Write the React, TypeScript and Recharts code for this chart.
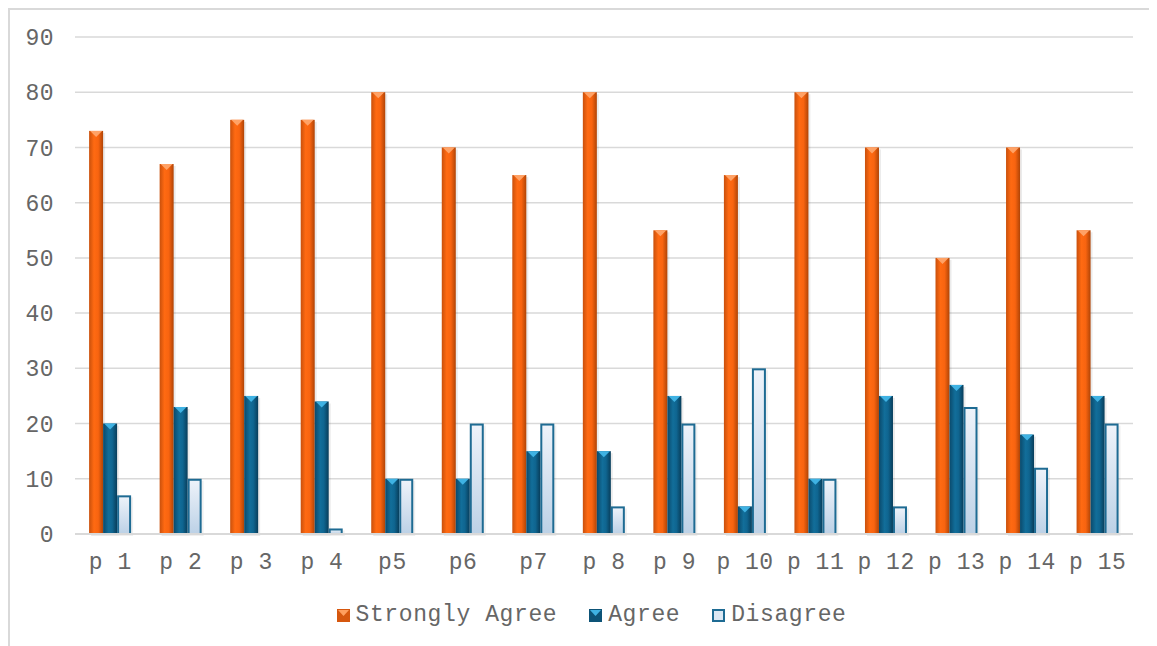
import React from "react";
import { BarChart, Bar, XAxis, YAxis, CartesianGrid, Legend } from "recharts";

const categories = ["p 1", "p 2", "p 3", "p 4", "p5", "p6", "p7", "p 8", "p 9", "p 10", "p 11", "p 12", "p 13", "p 14", "p 15"];
const stronglyAgree = [73, 67, 75, 75, 80, 70, 65, 80, 55, 65, 80, 70, 50, 70, 55];
const agree = [20, 23, 25, 24, 10, 10, 15, 15, 25, 5, 10, 25, 27, 18, 25];
const disagree = [7, 10, 0, 1, 10, 20, 20, 5, 20, 30, 10, 5, 23, 12, 20];
const yTicks = [0, 10, 20, 30, 40, 50, 60, 70, 80, 90];

const data = categories.map((c, i) => ({
  name: c,
  sa: stronglyAgree[i],
  ag: agree[i],
  di: disagree[i],
}));

const FONT = "'Liberation Mono', 'Courier New', monospace";
const TEXT = "#666666";

const OrangeShape = (props: any) => {
  const { x, y, width, height } = props;
  if (!height || height <= 0) return null;
  const t = Math.min(6, height);
  return (
    <g>
      <rect x={x + 2} y={y + 2} width={width} height={height} fill="rgba(0,0,0,0.08)" />
      <rect x={x} y={y} width={width} height={height} fill="url(#gOrange)" />
      <polygon points={`${x + 1},${y} ${x + width - 1},${y} ${x + width / 2},${y + t}`} fill="#ffa266" />
    </g>
  );
};

const BlueShape = (props: any) => {
  const { x, y, width, height } = props;
  if (!height || height <= 0) return null;
  const t = Math.min(6, height);
  return (
    <g>
      <rect x={x + 2} y={y + 2} width={width} height={height} fill="rgba(0,0,0,0.08)" />
      <rect x={x} y={y} width={width} height={height} fill="url(#gBlue)" />
      <polygon points={`${x + 1},${y} ${x + width - 1},${y} ${x + width / 2},${y + t}`} fill="#3fb2e3" />
    </g>
  );
};

const LightShape = (props: any) => {
  const { x, y, width, height } = props;
  if (!height || height <= 0) return null;
  return (
    <g>
      <rect x={x + 2} y={y + 2} width={width} height={height} fill="rgba(0,0,0,0.06)" />
      <rect x={x + 1} y={y + 1} width={width - 2} height={Math.max(0, height - 1)} fill="url(#gLight)" stroke="#1e6b93" strokeWidth={2} />
    </g>
  );
};

const LegendContent = () => {
  const items = [
    { label: "Strongly Agree", kind: "o" },
    { label: "Agree", kind: "b" },
    { label: "Disagree", kind: "l" },
  ];
  return (
    <div style={{ display: "flex", justifyContent: "center", alignItems: "center", fontFamily: FONT, fontSize: 23, letterSpacing: 0.6, color: TEXT, paddingLeft: 34 }}>
      {items.map((it, i) => (
        <div key={i} style={{ display: "flex", alignItems: "center", marginRight: i < 2 ? 31 : 0 }}>
          <svg width={15} height={15} style={{ marginRight: 5 }}>
            {it.kind === "o" && (
              <g>
                <rect x={1} y={1} width={13} height={13} fill="#d6570e" />
                <polygon points="2,2 13,2 7.5,8" fill="#ff9f5e" />
              </g>
            )}
            {it.kind === "b" && (
              <g>
                <rect x={1} y={1} width={13} height={13} fill="#0d5377" />
                <polygon points="2,2 13,2 7.5,8" fill="#3fb2e3" />
              </g>
            )}
            {it.kind === "l" && <rect x={2} y={2} width={11} height={11} fill="#dbe7f3" stroke="#1e6b93" strokeWidth={2} />}
          </svg>
          <span>{it.label}</span>
        </div>
      ))}
    </div>
  );
};

export default function App() {
  return (
    <div
      style={{
        width: 1160,
        height: 650,
        borderTop: "2px solid #d9d9d9",
        borderLeft: "2px solid #d9d9d9",
        boxSizing: "border-box",
        background: "#fff",
      }}
    >
      <BarChart
        width={1147}
        height={640}
        data={data}
        margin={{ top: 27, right: 24, bottom: 8, left: 5 }}
        barCategoryGap="20%"
        barGap={0}
      >
        <defs>
          <linearGradient id="gOrange" x1="0" y1="0" x2="1" y2="0">
            <stop offset="0%" stopColor="#c9500c" />
            <stop offset="35%" stopColor="#ff6a12" />
            <stop offset="65%" stopColor="#f86410" />
            <stop offset="100%" stopColor="#b04406" />
          </linearGradient>
          <linearGradient id="gBlue" x1="0" y1="0" x2="1" y2="0">
            <stop offset="0%" stopColor="#0a4a6c" />
            <stop offset="40%" stopColor="#126e9a" />
            <stop offset="65%" stopColor="#0f6590" />
            <stop offset="100%" stopColor="#083d5a" />
          </linearGradient>
          <linearGradient id="gLight" x1="0" y1="0" x2="0" y2="1">
            <stop offset="0%" stopColor="#eef3fa" />
            <stop offset="100%" stopColor="#bcd1e6" />
          </linearGradient>
        </defs>
        <CartesianGrid vertical={false} stroke="#d9d9d9" strokeWidth={1.5} />
        <XAxis
          dataKey="name"
          axisLine={{ stroke: "#d9d9d9", strokeWidth: 2 }}
          tickLine={false}
          tick={{ fill: TEXT, fontSize: 23, fontFamily: FONT, letterSpacing: 0.5 }}
          tickMargin={13}
          interval={0}
          height={68}
        />
        <YAxis
          domain={[0, 90]}
          ticks={yTicks}
          axisLine={false}
          tickLine={false}
          tick={{ fill: TEXT, fontSize: 23, fontFamily: FONT, letterSpacing: 0.5 }}
          tickMargin={15}
          width={60}
        />
        <Legend verticalAlign="bottom" height={40} content={<LegendContent />} />
        <Bar dataKey="sa" name="Strongly Agree" shape={<OrangeShape />} isAnimationActive={false} />
        <Bar dataKey="ag" name="Agree" shape={<BlueShape />} isAnimationActive={false} />
        <Bar dataKey="di" name="Disagree" shape={<LightShape />} isAnimationActive={false} />
      </BarChart>
    </div>
  );
}
